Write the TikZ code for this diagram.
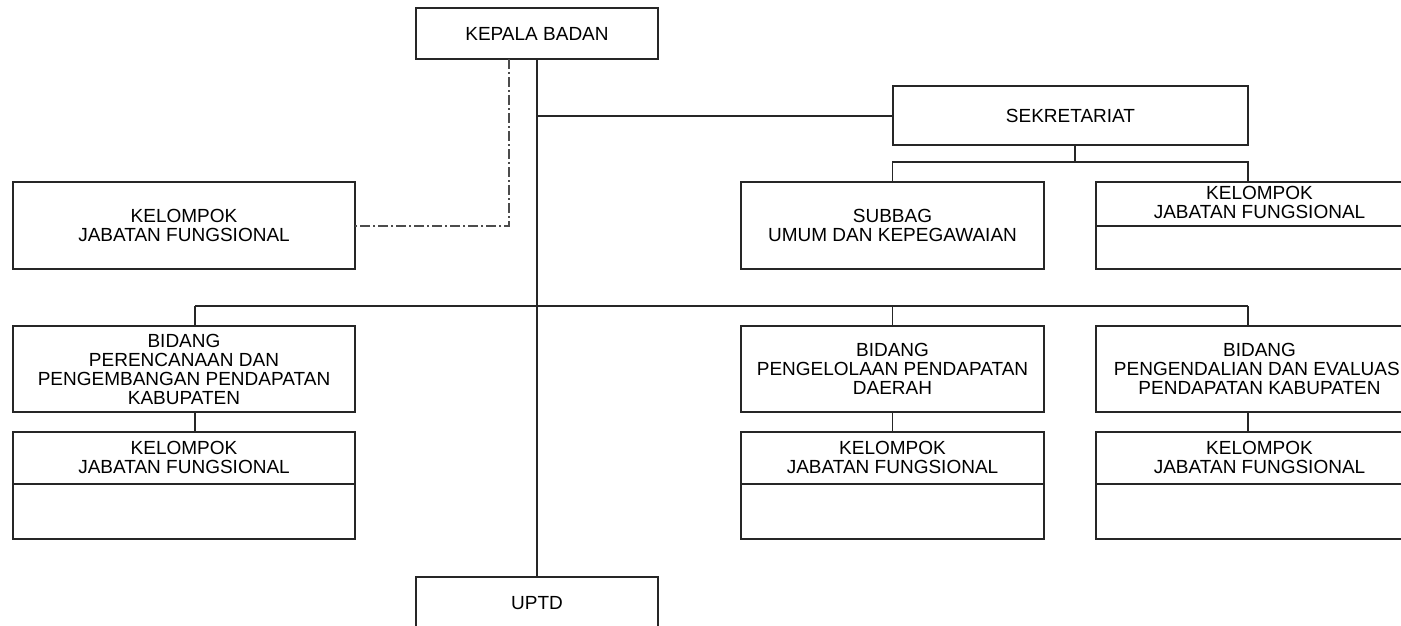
\documentclass[tikz,border=0pt]{standalone}
\usepackage{fontspec}
\setmainfont{Liberation Sans}
\begin{document}
\begin{tikzpicture}[x=1pt,y=-1pt,
  every node/.style={inner sep=0pt,outer sep=0pt,font=\fontsize{19}{19}\selectfont,align=center},
  box/.style={draw=black!85,line width=1.3pt,fill=none},
  conn/.style={draw=black!85,line width=1.3pt},
  dashdot/.style={draw=black!70,line width=1.3pt,dash pattern=on 10pt off 3pt on 2pt off 3pt},
  lbl/.style={text=black}]
\useasboundingbox (0,0) rectangle (1401,625);
\clip (0,0) rectangle (1401,625);
% boxes
\node[box,minimum width=242pt,minimum height=51pt] (kepala) at (537,33.5) {KEPALA BADAN};
\node[box,minimum width=355pt,minimum height=59pt] (sek) at (1070.5,115.5) {SEKRETARIAT};
\node[box,minimum width=342pt,minimum height=87pt] (kjf0) at (184,225.5) {KELOMPOK\\JABATAN FUNGSIONAL};
\node[box,minimum width=303pt,minimum height=87pt] (subbag) at (892.5,225.5) {SUBBAG\\UMUM DAN KEPEGAWAIAN};
\node[box,minimum width=327pt,minimum height=87pt] (kjf1) at (1259.5,225.5) {};
\node[lbl] (kjf1t) at (1259.5,202) {KELOMPOK\\JABATAN FUNGSIONAL};
\node[box,minimum width=342pt,minimum height=86pt] (bid1) at (184,369) {BIDANG\\PERENCANAAN DAN\\PENGEMBANGAN PENDAPATAN\\KABUPATEN};
\node[box,minimum width=303pt,minimum height=86pt] (bid2) at (892.5,369) {BIDANG\\PENGELOLAAN PENDAPATAN\\DAERAH};
\node[box,minimum width=327pt,minimum height=86pt] (bid3) at (1259.5,369) {BIDANG\\PENGENDALIAN DAN EVALUASI\\PENDAPATAN KABUPATEN};
\node[box,minimum width=342pt,minimum height=107pt] (kjf2) at (184,485.5) {};
\node[lbl] (kjf2t) at (184,457) {KELOMPOK\\JABATAN FUNGSIONAL};
\node[box,minimum width=303pt,minimum height=107pt] (kjf3) at (892.5,485.5) {};
\node[lbl] (kjf3t) at (892.5,457) {KELOMPOK\\JABATAN FUNGSIONAL};
\node[box,minimum width=327pt,minimum height=107pt] (kjf4) at (1259.5,485.5) {};
\node[lbl] (kjf4t) at (1259.5,457) {KELOMPOK\\JABATAN FUNGSIONAL};
\node[box,minimum width=242pt,minimum height=52pt] (uptd) at (537,603) {UPTD};
% header dividers
\draw[conn] (kjf1.west |- 0,226) -- (kjf1.east |- 0,226);
\draw[conn] (kjf2.west |- 0,484) -- (kjf2.east |- 0,484);
\draw[conn] (kjf3.west |- 0,484) -- (kjf3.east |- 0,484);
\draw[conn] (kjf4.west |- 0,484) -- (kjf4.east |- 0,484);
% coordinates
\coordinate (j1) at (537,116);
\coordinate (d1) at (509,226);
\coordinate (s0) at (1075,145);
\coordinate (s1) at (1075,162);
\coordinate (b0) at (537,306);
\coordinate (bx) at (195,306);
\coordinate (by) at (1248,306);
% connectors
\draw[conn] (kepala.south) -- (uptd.north);
\draw[conn] (j1) -- (sek.west |- j1);
\draw[dashdot] (kepala.south -| d1) -- (d1) -- (kjf0.east |- d1);
\draw[conn] (s0) -- (s1);
\draw[conn] (s1) -| (subbag.north);
\draw[conn] (s1) -| (by |- kjf1.north);
\draw[conn] (bx) -- (by);
\draw[conn] (bx) -- (bx |- bid1.north);
\draw[conn] (bid2.north |- b0) -- (bid2.north);
\draw[conn] (by) -- (by |- bid3.north);
\draw[conn] (bx |- bid1.south) -- (bx |- kjf2.north);
\draw[conn] (bid2.south) -- (kjf3.north);
\draw[conn] (by |- bid3.south) -- (by |- kjf4.north);
\end{tikzpicture}
\end{document}
